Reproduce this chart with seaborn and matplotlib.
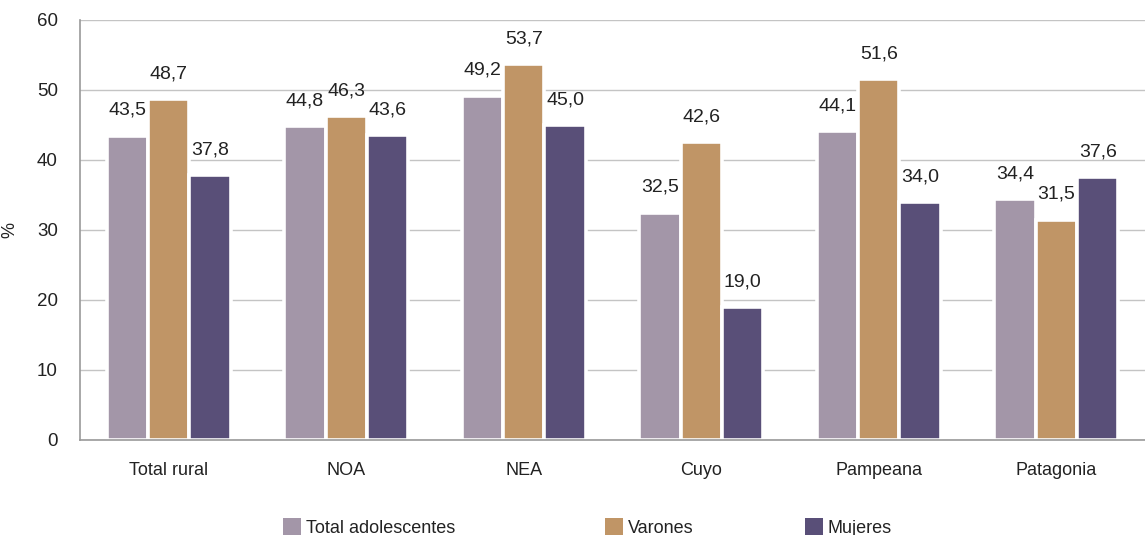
import matplotlib
matplotlib.use("Agg")
import matplotlib.pyplot as plt
import numpy as np
import pandas as pd
import seaborn as sns

REGIONS = ["Total rural", "NOA", "NEA", "Cuyo", "Pampeana", "Patagonia"]
TOTAL = [43.5, 44.8, 49.2, 32.5, 44.1, 34.4]
VARONES = [48.7, 46.3, 53.7, 42.6, 51.6, 31.5]
MUJERES = [37.8, 43.6, 45.0, 19.0, 34.0, 37.6]
SERIES = ["Total adolescentes", "Varones", "Mujeres"]
COLORS = ["#a396a8", "#c09566", "#594f78"]


def main():
    df = pd.DataFrame({"region": REGIONS, SERIES[0]: TOTAL, SERIES[1]: VARONES, SERIES[2]: MUJERES})
    long_df = df.melt(id_vars="region", var_name="serie", value_name="valor")

    sns.set_style("white")
    plt.rcParams["font.family"] = ["Liberation Sans", "DejaVu Sans"]

    fig = plt.figure(figsize=(11.45, 5.35), dpi=100)
    ax = fig.add_axes([80 / 1145, 95 / 535, 1065 / 1145, 420 / 535])

    sns.barplot(data=long_df, x="region", y="valor", hue="serie", hue_order=SERIES,
                palette=COLORS, width=0.7, edgecolor="white", linewidth=2.6,
                saturation=1, ax=ax, zorder=3)

    for container in ax.containers:
        labels = [f"{v:.1f}".replace(".", ",") for v in container.datavalues]
        ax.bar_label(container, labels=labels, padding=12, fontsize=14, color="#222222")

    ax.set_xlim(-0.5, len(REGIONS) - 0.5)
    ax.set_ylim(0, 60)
    ax.set_yticks(range(0, 61, 10))
    ax.yaxis.grid(True, color="#c4c4c4", linewidth=1.0, zorder=0)
    ax.set_axisbelow(True)
    ax.set_xlabel("")
    ax.set_ylabel("%", fontsize=13, color="#222222")
    ax.yaxis.set_label_coords(-0.058, 0.5)

    for side in ["top", "right"]:
        ax.spines[side].set_visible(False)
    for side in ["left", "bottom"]:
        ax.spines[side].set_color("#999999")
        ax.spines[side].set_linewidth(1.2)
        ax.spines[side].set_zorder(5)  # keep the axis line over the white bar edges

    ax.tick_params(axis="y", length=0, labelsize=13.5, labelcolor="#222222", pad=16)
    ax.tick_params(axis="x", which="major", length=0, labelsize=13, labelcolor="#222222", pad=16)
    ax.set_xticks(np.arange(0.5, len(REGIONS) - 1, 1.0), minor=True)
    ax.tick_params(axis="x", which="minor", length=6, color="#999999", width=1.2)

    ax.get_legend().remove()
    # one legend per entry, the original spaces them unevenly
    for name, color, x in zip(SERIES, COLORS, [283, 605, 805]):
        handle = plt.Rectangle((0, 0), 1, 1, facecolor=color, edgecolor="none")
        fig.legend([handle], [name], loc="center left", bbox_to_anchor=(x / 1145, 0.014),
                   frameon=False, fontsize=13, handlelength=1.0, handleheight=1.0,
                   handletextpad=0.25, borderpad=0, borderaxespad=0, labelcolor="#222222")

    fig.savefig("out.png", dpi=100)


if __name__ == "__main__":
    main()
